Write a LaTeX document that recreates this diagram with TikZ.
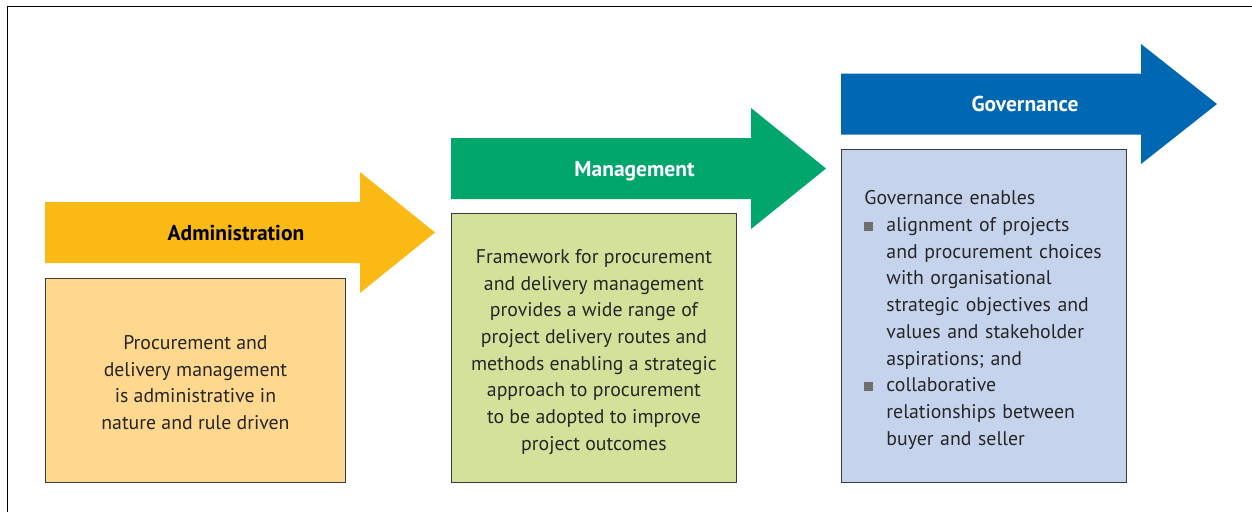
\documentclass[tikz,border=0pt]{standalone}
\usepackage{fontspec}
\setmainfont{PT Sans}
\usetikzlibrary{positioning}

\definecolor{adminorange}{HTML}{FBB916}
\definecolor{adminpale}{HTML}{FED88F}
\definecolor{mgmtgreen}{HTML}{00A66C}
\definecolor{mgmtpale}{HTML}{D3E29B}
\definecolor{govblue}{HTML}{0067B2}
\definecolor{govpale}{HTML}{C6D3EC}
\definecolor{boxline}{HTML}{3A3A3A}
\definecolor{bodytext}{HTML}{262626}
\definecolor{bulletgrey}{HTML}{6D6E70}

\newcommand{\govbullet}{\makebox[22pt][l]{\textcolor{bulletgrey}{\raisebox{1pt}{\rule{8.5pt}{8.5pt}}}}}

\tikzset{
  stagebox/.style={draw=boxline, line width=0.9pt, anchor=north west, inner sep=0pt},
  stagetext/.style={inner sep=0pt, text=bodytext, font=\fontsize{19.8}{26.7}\selectfont, align=center},
  stagelabel/.style={anchor=base, font=\fontsize{21.5}{24}\selectfont\bfseries}
}

\begin{document}
\begin{tikzpicture}[x=1pt, y=-1pt]
  \useasboundingbox (0,0) rectangle (1252,512);
  % frame
  \draw[line width=1pt] (7,512) -- (7,6.5) -- (1252,6.5);

  % Administration stage
  \fill[adminorange] (45,202) -- (360,202) -- (360,172) -- (435,232.5) -- (360,293) -- (360,263) -- (45,263) -- cycle;
  \node[stagelabel, text=black] (adminLabel) at (236,240) {Administration};
  \node[stagebox, fill=adminpale, minimum width=300pt, minimum height=204pt] (adminBox) at (45,278) {};
  \node[stagetext] (adminText) at ([yshift=-2pt]adminBox.center)
    {Procurement and\\delivery management\\is administrative in\\nature and rule driven};

  % Management stage
  \fill[mgmtgreen] (451,138) -- (751,138) -- (751,108) -- (826,168.5) -- (751,229) -- (751,199) -- (451,199) -- cycle;
  \node[stagelabel, text=white] (mgmtLabel) at (634.5,176) {Management};
  \node[stagebox, fill=mgmtpale, minimum width=285pt, minimum height=269pt] (mgmtBox) at (451,213) {};
  \node[stagetext] (mgmtText) at ([yshift=-4pt]mgmtBox.center)
    {Framework for procurement\\and delivery management\\provides a wide range of\\project delivery routes and\\methods enabling a strategic\\approach to procurement\\to be adopted to improve\\project outcomes};

  % Governance stage
  \fill[govblue] (841,73.5) -- (1141,73.5) -- (1141,44) -- (1217,104) -- (1141,164) -- (1141,134.5) -- (841,134.5) -- cycle;
  \node[stagelabel, text=white] (govLabel) at (1025,111) {Governance};
  \node[stagebox, fill=govpale, minimum width=285pt, minimum height=333pt] (govBox) at (841,149) {};
  \node[stagetext, text width=239pt, align=left] (govText) at ([yshift=-4pt]govBox.center)
    {Governance enables\\
     \govbullet alignment of projects\\
     \hspace*{22pt}and procurement choices\\
     \hspace*{22pt}with organisational\\
     \hspace*{22pt}strategic objectives and\\
     \hspace*{22pt}values and stakeholder\\
     \hspace*{22pt}aspirations; and\\
     \govbullet collaborative\\
     \hspace*{22pt}relationships between\\
     \hspace*{22pt}buyer and seller};
\end{tikzpicture}
\end{document}
